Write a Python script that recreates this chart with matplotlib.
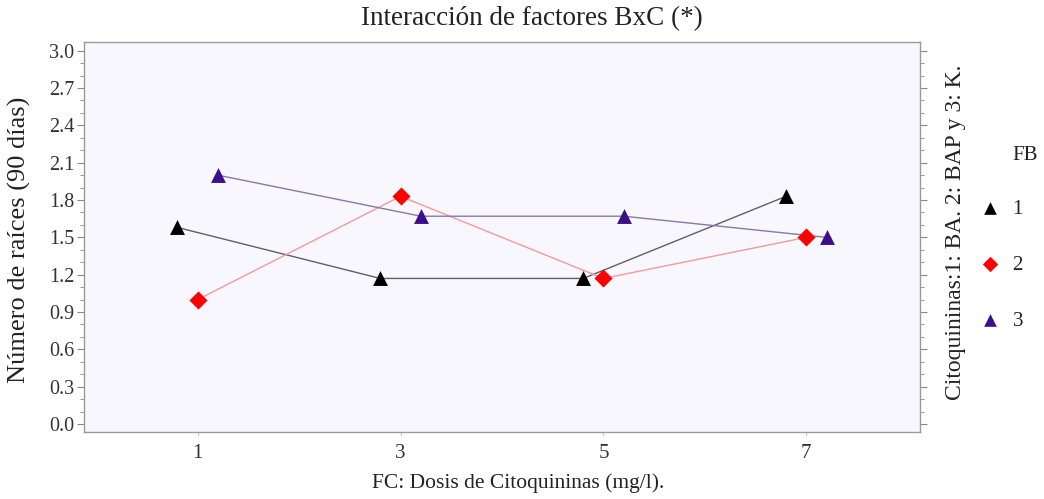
import matplotlib.pyplot as plt
from matplotlib.ticker import MultipleLocator

# Dosis de citoquininas (mg/l) y medias por nivel de FB
dosis = [1, 3, 5, 7]
fb_niveles = ['1', '2', '3']
fb1 = [1.58, 1.17, 1.17, 1.83]
fb2 = [1.00, 1.83, 1.17, 1.50]
fb3 = [2.00, 1.67, 1.67, 1.50]
y_ticks = [0.0, 0.3, 0.6, 0.9, 1.2, 1.5, 1.8, 2.1, 2.4, 2.7, 3.0]

plt.rcParams['font.family'] = ['Liberation Serif', 'DejaVu Serif']

W, H = 1044, 499
fig = plt.figure(figsize=(W / 100, H / 100), dpi=100)
ax = fig.add_axes([84 / W, 1 - 432 / H, 836 / W, 390 / H])
ax.set_facecolor('#f8f7fd')

series = [
    (fb1, -0.2, '^', 'black', '#606060'),
    (fb2, 0.0, 'D', '#ff0000', '#f39a9a'),
    (fb3, 0.2, '^', '#3b0f8c', '#8878a8'),
]
handles = []
for vals, dx, mk, col, lcol in series:
    xs = [d + dx for d in dosis]
    ax.plot(xs, vals, color=lcol, lw=1.0, zorder=2)
    h = ax.scatter(xs, vals, marker=mk, s=115 if mk == '^' else 85,
                   color=col, zorder=3, linewidths=0)
    handles.append(h)

ax.set_xlim(-0.12, 8.12)
ax.set_ylim(-0.064, 3.07)
ax.set_xticks(dosis)
ax.set_yticks(y_ticks)
ax.set_yticklabels([f'{v:.1f}' for v in y_ticks])
ax.yaxis.set_minor_locator(MultipleLocator(0.1))

for s in ax.spines.values():
    s.set_color('#999999')
    s.set_linewidth(1.0)

ax.tick_params(axis='y', which='both', left=True, right=True, color='#888888',
               labelsize=14.5, labelcolor='#333333', pad=2)
ax.tick_params(axis='y', which='major', length=5)
ax.tick_params(axis='y', which='minor', length=3)
ax.tick_params(axis='x', length=3, color='#cccccc', labelsize=15,
               labelcolor='#333333', pad=6)

# titulo y etiquetas, algo desplazados a la derecha
fig.text(532 / W, 1 - 19 / H, 'Interacción de factores BxC (*)',
         ha='center', va='center', fontsize=19.5, color='#222222')
fig.text(518 / W, 1 - 483 / H, 'FC: Dosis de Citoquininas (mg/l).',
         ha='center', va='center', fontsize=15.5, color='#222222')
fig.text(19 / W, 1 - 240 / H, 'Número de raíces (90 días)', rotation=90,
         ha='center', va='center', fontsize=19, color='#222222')
fig.text(955 / W, 1 - 232 / H, 'Citoquininas:1: BA. 2: BAP y 3: K.',
         rotation=90, ha='center', va='center', fontsize=17, color='#222222')

# leyenda FB
fig.text(1025 / W, 1 - 155 / H, 'FB', ha='center', va='center',
         fontsize=15, color='#222222')
leg = fig.legend(handles, fb_niveles, loc='center',
                 bbox_to_anchor=(998 / W, 1 - 265 / H), frameon=False,
                 fontsize=15, labelspacing=1.75,
                 handletextpad=0.3, handlelength=1.6, markerscale=0.85)
for t in leg.get_texts():
    t.set_color('#222222')

fig.savefig('out.png', dpi=100)
